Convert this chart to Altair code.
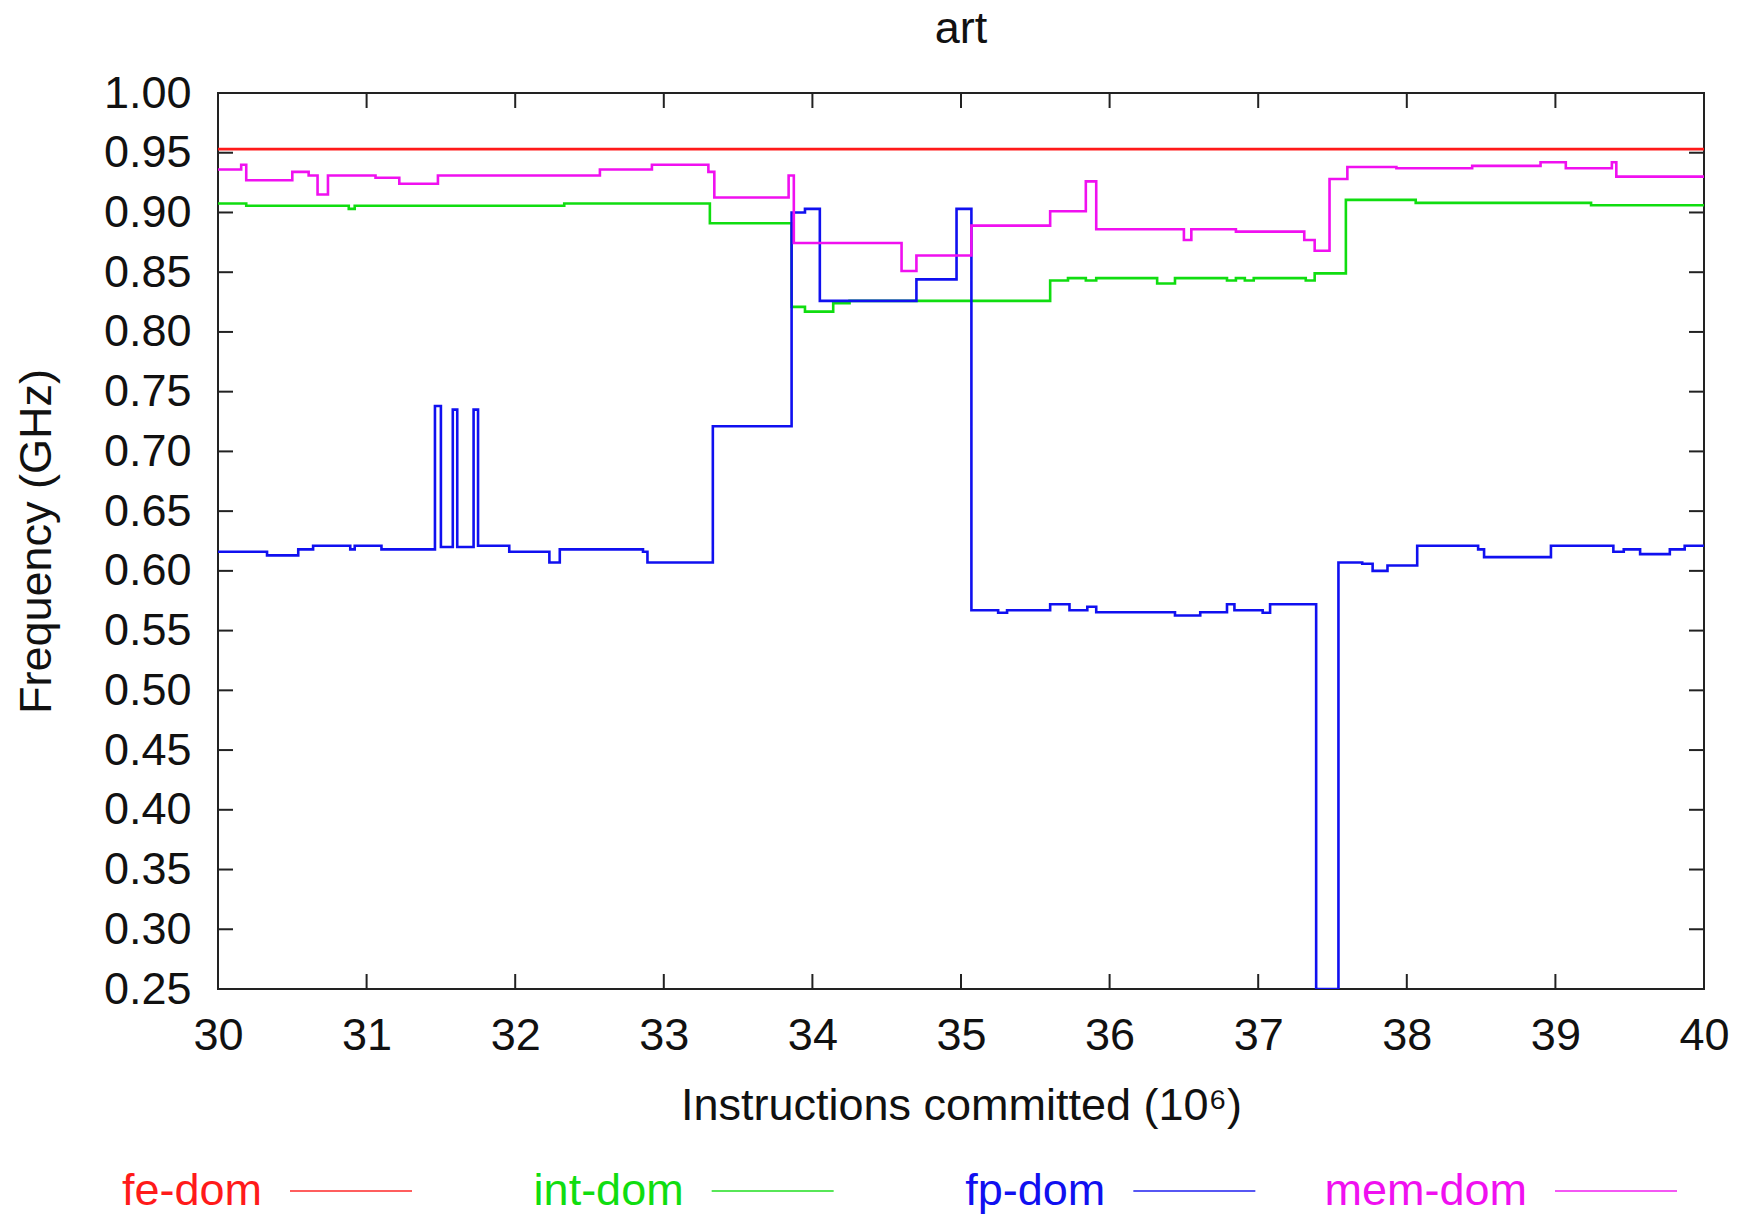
import altair as alt
import pandas as pd

FONT = "Liberation Sans"
FONT_SIZE = 45

# Clock-domain names and their gnuplot-style colours
series_names = ["fe-dom", "int-dom", "fp-dom", "mem-dom"]
series_colors = ["#ff1a1a", "#10dd10", "#1010f0", "#f010f0"]

# Step functions: each value holds from its x until the next x (x in 10^6 instructions)
fe_x = [30.0, 40.0]
fe_y = [0.953, 0.953]

int_x = [30.0, 30.19, 30.88, 30.92, 32.33, 33.31, 33.86, 33.95, 34.14, 34.25,
         35.60, 35.72, 35.84, 35.91, 36.32, 36.44, 36.79, 36.85, 36.91, 36.97,
         37.32, 37.38, 37.59, 38.06, 39.24, 40.0]
int_y = [0.9075, 0.9056, 0.903, 0.9056, 0.9075, 0.891, 0.821, 0.817, 0.824, 0.826,
         0.843, 0.845, 0.843, 0.845, 0.8405, 0.845, 0.843, 0.845, 0.843, 0.845,
         0.843, 0.849, 0.9105, 0.908, 0.906, 0.906]

fp_x = [30.0, 30.33, 30.54, 30.64, 30.89, 30.92, 31.10, 31.46, 31.50, 31.58,
        31.61, 31.72, 31.75, 31.96, 32.23, 32.30, 32.86, 32.89, 33.33, 33.86,
        33.95, 34.05, 34.70, 34.97, 35.07, 35.25, 35.31, 35.60, 35.73, 35.85,
        35.91, 36.44, 36.61, 36.79, 36.84, 37.03, 37.08, 37.39, 37.54, 37.70,
        37.77, 37.87, 38.07, 38.48, 38.52, 38.97, 39.39, 39.46, 39.57, 39.77,
        39.87, 40.0]
fp_y = [0.616, 0.613, 0.618, 0.621, 0.618, 0.621, 0.618, 0.738, 0.620, 0.735,
        0.620, 0.735, 0.621, 0.616, 0.607, 0.618, 0.616, 0.607, 0.721, 0.900,
        0.903, 0.826, 0.844, 0.903, 0.567, 0.565, 0.567, 0.572, 0.567, 0.570,
        0.5654, 0.5626, 0.5654, 0.572, 0.567, 0.565, 0.572, 0.25, 0.607, 0.606,
        0.600, 0.6045, 0.621, 0.618, 0.6115, 0.621, 0.616, 0.618, 0.614, 0.618,
        0.621, 0.621]

mem_x = [30.0, 30.156, 30.19, 30.50, 30.61, 30.67, 30.74, 31.06, 31.22, 31.48,
         32.57, 32.92, 33.30, 33.34, 33.84, 33.875, 34.60, 34.70, 35.07, 35.60,
         35.84, 35.91, 36.50, 36.55, 36.85, 37.31, 37.38, 37.48, 37.60, 37.93,
         38.44, 38.90, 39.07, 39.38, 39.41, 40.0]
mem_y = [0.936, 0.940, 0.927, 0.934, 0.931, 0.915, 0.931, 0.929, 0.924, 0.931,
         0.936, 0.940, 0.934, 0.9125, 0.931, 0.8745, 0.851, 0.864, 0.889, 0.901,
         0.926, 0.886, 0.877, 0.886, 0.884, 0.877, 0.868, 0.928, 0.938, 0.937,
         0.939, 0.942, 0.937, 0.942, 0.930, 0.930]

x_ticks = [30, 31, 32, 33, 34, 35, 36, 37, 38, 39, 40]
y_ticks = [0.25, 0.30, 0.35, 0.40, 0.45, 0.50, 0.55, 0.60, 0.65, 0.70,
           0.75, 0.80, 0.85, 0.90, 0.95, 1.00]

# Long-form table for the step lines
rows = []
for name, xs, ys in zip(series_names, [fe_x, int_x, fp_x, mem_x], [fe_y, int_y, fp_y, mem_y]):
    for xv, yv in zip(xs, ys):
        rows.append({"series": name, "x": xv, "y": yv})
lines_df = pd.DataFrame(rows)

W, H = 1486, 896
TICK_LEN = 15
AXIS_COLOR = "#222222"

x_scale = alt.Scale(domain=[30, 40], nice=False, zero=False)
y_scale = alt.Scale(domain=[0.25, 1.0], nice=False, zero=False)
color_enc = alt.Color("series:N",
                      scale=alt.Scale(domain=series_names, range=series_colors),
                      legend=None)

x_axis = alt.Axis(values=x_ticks, format="d", ticks=False, tickSize=0, domain=False,
                  grid=False, labelPadding=24, labelFont=FONT, labelFontSize=FONT_SIZE,
                  labelColor="#111111", labelFlush=False,
                  title="Instructions committed (10\u2076)", titleFont=FONT,
                  titleFontSize=FONT_SIZE, titleFontWeight="normal", titleColor="#111111",
                  titleY=116, titleBaseline="middle")
y_axis = alt.Axis(values=y_ticks, format=".2f", ticks=False, tickSize=0, domain=False,
                  grid=False, labelPadding=27, labelFont=FONT, labelFontSize=FONT_SIZE,
                  labelColor="#111111", labelFlush=False,
                  title="Frequency (GHz)", titleFont=FONT, titleFontSize=FONT_SIZE,
                  titleFontWeight="normal", titleColor="#111111", titleAngle=270,
                  titleX=-182, titleY=H / 2, titleBaseline="middle", titleAlign="center")

lines = alt.Chart(lines_df).mark_line(interpolate="step-after", strokeWidth=2.6, clip=True).encode(
    x=alt.X("x:Q", scale=x_scale, axis=x_axis),
    y=alt.Y("y:Q", scale=y_scale, axis=y_axis),
    color=color_enc,
)

# Inward tick marks on all four sides of the frame
ytick_df = pd.DataFrame({"y": y_ticks})
xtick_df = pd.DataFrame({"x": x_ticks})
tick_style = dict(color=AXIS_COLOR, strokeWidth=2)

ticks_left = alt.Chart(ytick_df).mark_rule(**tick_style).encode(
    y=alt.Y("y:Q", scale=y_scale, axis=y_axis), x=alt.value(0), x2=alt.value(TICK_LEN))
ticks_right = alt.Chart(ytick_df).mark_rule(**tick_style).encode(
    y=alt.Y("y:Q", scale=y_scale, axis=y_axis), x=alt.value(W - TICK_LEN), x2=alt.value(W))
ticks_bottom = alt.Chart(xtick_df).mark_rule(**tick_style).encode(
    x=alt.X("x:Q", scale=x_scale, axis=x_axis), y=alt.value(H - TICK_LEN), y2=alt.value(H))
ticks_top = alt.Chart(xtick_df).mark_rule(**tick_style).encode(
    x=alt.X("x:Q", scale=x_scale, axis=x_axis), y=alt.value(0), y2=alt.value(TICK_LEN))

plot = alt.layer(lines, ticks_left, ticks_right, ticks_bottom, ticks_top)

# Key below the plot: name followed by a line sample, in the series colour
key_df = pd.DataFrame({"series": series_names})
key_x = alt.X("series:N", sort=series_names,
              scale=alt.Scale(type="point", domain=series_names, range=[133, 1398],
                              padding=0),
              axis=None)
KEY_Y = 1098
key_lines = alt.Chart(key_df).mark_tick(orient="horizontal", size=122, thickness=2.2).encode(
    x=key_x, y=alt.value(KEY_Y), color=color_enc)
key_text = alt.Chart(key_df).mark_text(align="right", baseline="middle", dx=-89,
                                       font=FONT, fontSize=FONT_SIZE).encode(
    x=key_x, y=alt.value(KEY_Y), text="series:N", color=color_enc)
key = alt.layer(key_lines, key_text)

chart = alt.layer(plot, key).resolve_scale(x="independent").properties(
    width=W,
    height=H,
    title=alt.TitleParams("art", font=FONT, fontSize=FONT_SIZE, fontWeight="normal",
                          color="#111111", offset=19, anchor="middle", frame="group"),
    autosize=alt.AutoSizeParams(type="none"),
    padding={"left": 218, "top": 93, "right": 34, "bottom": 225},
    background="white",
).configure_view(stroke=AXIS_COLOR, strokeWidth=2)

chart.save("out.html", embed_options={"renderer": "svg", "actions": False})
